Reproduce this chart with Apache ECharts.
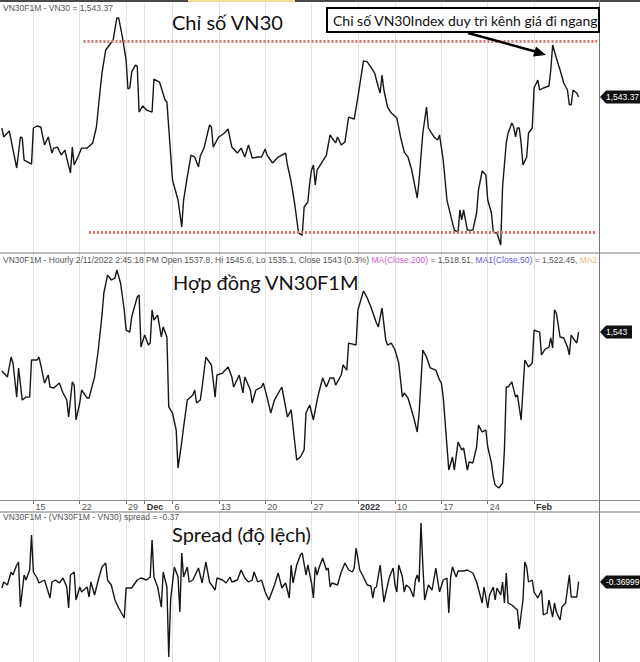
<!DOCTYPE html>
<html><head><meta charset="utf-8">
<script src="https://cdn.jsdelivr.net/npm/echarts@6/dist/echarts.min.js"></script>
<style>html,body{margin:0;padding:0;background:#fff}#c{width:640px;height:662px}</style>
</head><body><div id="c"></div><script>
// ---- axis: trading days (hourly slots) ----
const hours = ['09','10','11','13','14'];
const tradingDays = [
 '2021-11-10','2021-11-11','2021-11-12','2021-11-15','2021-11-16','2021-11-17','2021-11-18','2021-11-19',
 '2021-11-22','2021-11-23','2021-11-24','2021-11-25','2021-11-26','2021-11-29','2021-11-30',
 '2021-12-01','2021-12-02','2021-12-03','2021-12-06','2021-12-07','2021-12-08','2021-12-09','2021-12-10',
 '2021-12-13','2021-12-14','2021-12-15','2021-12-16','2021-12-17','2021-12-20','2021-12-21','2021-12-22',
 '2021-12-23','2021-12-24','2021-12-27','2021-12-28','2021-12-29','2021-12-30','2021-12-31',
 '2022-01-04','2022-01-05','2022-01-06','2022-01-07','2022-01-10','2022-01-11','2022-01-12','2022-01-13',
 '2022-01-14','2022-01-17','2022-01-18','2022-01-19','2022-01-20','2022-01-21','2022-01-24','2022-01-25',
 '2022-01-26','2022-01-27','2022-01-28','2022-02-07','2022-02-08','2022-02-09','2022-02-10','2022-02-11'];
const tickLabels = {'2021-11-15':'15','2021-11-22':'22','2021-11-29':'29','2021-12-01':'Dec','2021-12-06':'6',
 '2021-12-13':'13','2021-12-20':'20','2021-12-27':'27','2022-01-04':'2022','2022-01-10':'10','2022-01-17':'17',
 '2022-01-24':'24','2022-02-07':'Feb'};
const boldLabels = ['Dec','2022','Feb'];

// ---- series: [slot index, value] ----
const vn30 = [[1,1524.7],[2,1519.3],[5,1522.9],[9,1500.6],[11,1519.3],[12,1518.7],[13,1505.4],[16,1503.6],[17,1503.0],[18,1524.7],[20,1525.9],[22,1525.3],[24,1514.5],[26,1519.3],[28,1509.6],[29,1512.6],[31,1513.2],[33,1508.4],[35,1511.4],[36,1506.6],[38,1497.6],[39,1513.2],[40,1502.4],[42,1507.2],[44,1512.6],[47,1512.6],[50,1515.7],[52,1525.3],[54,1547.6],[55,1557.8],[57,1571.7],[61,1577.7],[63,1591.0],[64,1591.0],[66,1579.5],[68,1565.7],[69,1548.2],[70,1548.8],[71,1558.4],[73,1562.6],[74,1562.0],[75,1534.3],[77,1538.0],[79,1535.5],[82,1534.3],[83,1554.2],[86,1552.4],[89,1541.6],[90,1540.4],[93,1493.4],[96,1481.3],[98,1465.1],[99,1481.3],[101,1495.2],[103,1508.4],[105,1507.2],[107,1501.2],[108,1507.8],[110,1512.6],[113,1526.5],[114,1525.3],[115,1513.2],[117,1517.5],[118,1519.3],[121,1521.7],[123,1524.1],[125,1513.2],[128,1509.6],[130,1512.6],[132,1507.2],[134,1514.5],[136,1506.6],[139,1507.2],[141,1507.2],[143,1512.0],[144,1508.4],[147,1503.6],[150,1507.2],[154,1509.6],[155,1502.4],[157,1492.2],[159,1478.3],[161,1461.4],[163,1460.2],[164,1477.1],[166,1480.1],[167,1491.6],[168,1499.4],[169,1502.4],[170,1490.4],[171,1499.4],[172,1501.2],[176,1508.4],[178,1520.5],[179,1518.7],[181,1515.7],[182,1519.3],[184,1514.5],[186,1516.3],[188,1531.3],[191,1530.1],[193,1543.4],[196,1565.1],[198,1564.5],[200,1561.4],[202,1557.8],[204,1549.4],[205,1545.8],[206,1556.6],[207,1547.6],[209,1537.3],[211,1533.7],[214,1530.7],[216,1519.3],[218,1510.2],[220,1507.2],[222,1499.4],[225,1482.5],[226,1493.4],[228,1521.7],[230,1537.3],[231,1524.7],[234,1519.3],[236,1517.5],[237,1520.5],[239,1505.4],[241,1481.3],[244,1467.5],[245,1463.2],[247,1462.0],[248,1475.3],[249,1469.3],[250,1475.3],[252,1463.2],[255,1463.2],[257,1473.5],[258,1487.3],[260,1498.8],[262,1496.4],[263,1481.3],[265,1473.5],[266,1462.0],[268,1461.4],[270,1454.2],[271,1489.2],[273,1515.7],[274,1521.7],[276,1527.7],[277,1525.3],[278,1519.3],[279,1524.7],[280,1524.7],[281,1515.7],[282,1502.4],[284,1507.2],[285,1521.7],[287,1524.7],[288,1548.8],[290,1553.6],[291,1547.6],[293,1548.8],[296,1550.0],[297,1559.6],[298,1574.7],[300,1566.9],[302,1559.6],[304,1551.8],[306,1547.6],[307,1538.6],[308,1538.6],[309,1547.6],[311,1545.8],[312,1543.37]];

const vn30f1m = [[1,1519.3],[4,1515.7],[6,1527.8],[7,1524.2],[9,1503.5],[10,1521.2],[12,1501.7],[14,1503.5],[16,1503.5],[17,1526.0],[20,1526.0],[21,1527.8],[22,1523.0],[24,1512.0],[26,1516.9],[27,1509.6],[29,1509.0],[32,1512.0],[34,1506.0],[36,1501.7],[37,1491.4],[39,1512.7],[40,1510.8],[41,1489.6],[43,1499.9],[44,1507.8],[47,1502.9],[48,1502.9],[51,1515.7],[53,1532.1],[55,1553.3],[56,1566.7],[58,1577.6],[60,1574.6],[62,1575.8],[63,1580.7],[65,1572.8],[67,1556.4],[68,1544.2],[70,1543.0],[71,1552.1],[74,1564.3],[75,1565.5],[76,1533.9],[78,1541.2],[80,1535.1],[81,1536.3],[82,1556.4],[83,1550.3],[85,1553.3],[87,1540.0],[88,1546.1],[90,1540.0],[91,1497.5],[93,1493.8],[95,1483.5],[96,1460.4],[98,1476.2],[99,1485.3],[101,1501.7],[104,1504.8],[105,1507.8],[106,1499.9],[108,1501.7],[109,1509.6],[111,1527.8],[114,1523.0],[116,1503.5],[117,1516.9],[120,1518.1],[123,1521.8],[125,1515.7],[126,1509.6],[129,1516.9],[131,1506.0],[132,1515.7],[135,1507.8],[136,1499.9],[138,1507.8],[141,1509.6],[142,1512.0],[144,1503.5],[146,1493.8],[148,1501.7],[151,1507.8],[152,1509.6],[153,1503.5],[155,1491.4],[157,1495.7],[160,1465.3],[162,1467.1],[164,1471.4],[165,1493.8],[167,1498.7],[169,1489.6],[171,1501.7],[172,1506.6],[174,1515.1],[176,1509.6],[178,1515.1],[180,1515.1],[181,1510.8],[184,1516.9],[185,1523.0],[187,1519.9],[188,1536.3],[192,1535.1],[193,1556.4],[196,1567.9],[198,1563.7],[200,1558.2],[203,1548.5],[204,1546.1],[206,1557.6],[208,1538.2],[209,1535.1],[211,1536.3],[213,1532.1],[215,1524.2],[217,1503.5],[218,1506.0],[220,1502.9],[223,1491.4],[225,1482.3],[226,1493.8],[228,1532.1],[230,1527.8],[232,1521.2],[235,1519.9],[237,1513.9],[238,1512.0],[239,1503.5],[242,1459.2],[244,1467.1],[245,1459.2],[247,1476.2],[249,1471.4],[250,1472.6],[252,1459.2],[253,1464.1],[255,1463.5],[257,1473.2],[258,1486.5],[260,1482.3],[262,1483.5],[263,1473.2],[265,1463.5],[266,1455.0],[267,1450.1],[269,1448.3],[271,1451.3],[272,1471.4],[273,1509.6],[274,1509.6],[276,1512.7],[278,1503.5],[279,1504.8],[281,1489.6],[283,1526.0],[285,1521.8],[287,1524.2],[288,1544.2],[291,1543.0],[292,1529.1],[294,1532.7],[296,1533.9],[297,1539.4],[298,1533.3],[299,1556.4],[300,1554.6],[302,1540.0],[304,1539.4],[306,1533.9],[307,1529.1],[308,1541.2],[309,1539.4],[311,1536.3],[312,1543.0]];

const spread = [[1,-1.0],[2,-0.4],[4,-0.7],[6,0.6],[7,0.3],[9,1.3],[10,1.6],[11,-2.9],[13,0.3],[14,-0.2],[16,0.8],[17,4.3],[18,0.6],[20,0.0],[21,-0.5],[24,-0.2],[27,-2.0],[28,-0.4],[30,-0.2],[32,-0.5],[34,0.0],[36,-0.9],[37,-3.0],[38,0.3],[40,0.6],[41,-2.2],[43,-0.9],[44,-1.4],[47,-0.9],[48,-1.9],[49,-0.4],[51,-1.7],[53,-0.2],[55,1.1],[57,1.5],[58,-0.2],[60,-0.7],[62,-2.2],[64,-3.0],[67,-4.0],[68,-1.0],[71,-1.0],[74,-0.2],[76,0.0],[79,-0.2],[81,0.1],[82,3.8],[83,0.1],[85,-0.9],[87,-2.9],[88,0.6],[90,-0.9],[91,-7.9],[92,-2.2],[94,1.1],[96,0.1],[97,-3.4],[98,2.5],[99,0.1],[101,1.1],[102,-0.4],[104,-0.2],[107,1.0],[109,-0.5],[111,1.6],[113,-0.4],[116,-1.2],[117,0.0],[120,-0.2],[122,-0.5],[124,0.1],[125,-0.4],[128,-0.2],[130,0.8],[132,0.0],[134,-0.4],[136,-0.2],[137,0.6],[139,-0.4],[141,-0.2],[143,-1.4],[145,-2.2],[148,-0.7],[150,0.5],[152,-1.0],[154,-0.5],[156,-2.0],[157,1.3],[158,-0.5],[160,1.3],[162,2.3],[163,2.5],[165,0.3],[166,1.3],[168,-0.5],[169,-2.0],[170,1.1],[171,0.3],[172,1.0],[174,2.0],[176,0.8],[177,1.0],[178,-0.9],[179,-0.5],[182,-0.7],[184,0.6],[186,1.5],[188,0.8],[190,0.6],[191,1.0],[192,3.0],[194,0.8],[196,0.1],[198,-0.7],[200,-0.8],[201,-2.0],[202,-1.0],[203,-0.9],[205,1.3],[207,-2.4],[209,-0.7],[210,0.1],[212,1.0],[213,-0.7],[214,-1.4],[215,1.3],[217,0.1],[218,-1.4],[219,-0.7],[221,-1.0],[223,-1.9],[224,-0.2],[225,0.3],[226,-0.4],[227,5.5],[228,1.3],[229,-2.2],[231,-0.7],[233,-1.2],[235,1.0],[237,-1.4],[239,-0.2],[241,0.0],[242,-3.5],[243,0.1],[244,1.1],[246,0.1],[247,0.7],[250,0.7],[252,0.8],[255,0.5],[257,-0.4],[260,-2.5],[261,-0.9],[263,-3.0],[264,-1.7],[266,-0.9],[267,-2.2],[268,-1.0],[270,-1.7],[271,-0.4],[272,-2.5],[273,0.5],[274,-2.5],[276,-2.7],[279,-3.2],[280,-5.1],[282,-2.2],[283,1.6],[284,1.1],[285,-0.4],[287,-0.2],[288,-1.4],[290,-2.0],[292,-1.2],[293,-3.7],[295,-3.5],[296,-2.2],[298,-3.9],[299,-2.5],[300,-3.4],[302,-4.2],[303,-2.9],[305,-2.5],[307,0.3],[308,-1.9],[311,-1.9],[312,-0.37]];

// channel lines (VN30 level) and last-value tags
const channelTop = 1576.8, channelBottom = 1461.8;
const channelStart = [45, 48], channelEnd = 322;
const lastTags = ['1,543.37', '1,543', '-0.36999'];

// ---- build categories ----
const categories = [];
for (let i = 0; i < 3; i++) categories.push('pre' + i);
tradingDays.forEach(d => hours.forEach(h => categories.push(d + ' ' + h)));
let k = 0;
while (categories.length < 324) categories.push('post' + (k++));

const isTick = (idx, val) => typeof val === 'string' && val.endsWith(' 09') && tickLabels[val.slice(0, 10)] !== undefined;

const FONT_S = 'Liberation Sans, Arial, sans-serif';
const FONT_T = 'Lato, Noto Sans, sans-serif';

function xAxis(gi, showLabels) {
  return {
    type: 'category', gridIndex: gi, data: categories, boundaryGap: false,
    axisLine: {show: false},
    axisTick: showLabels ? {show: true, interval: isTick, length: 4, lineStyle: {color: '#777'}} : {show: false},
    axisLabel: showLabels ? {
      show: true, interval: isTick, align: 'left', margin: 2, padding: [0, 0, 0, 2],
      fontSize: 9, color: '#555', fontFamily: FONT_S,
      formatter: v => { const t = tickLabels[v.slice(0, 10)]; return boldLabels.includes(t) ? '{b|' + t + '}' : t; },
      rich: {b: {fontWeight: 'bold', fontSize: 9, color: '#333', fontFamily: FONT_S}}
    } : {show: false},
    splitLine: {show: true, interval: isTick, lineStyle: {color: '#e2e2e2', width: 1}}
  };
}
function yAxis(gi, min, max) {
  return {type: 'value', gridIndex: gi, min, max, show: true, axisLine: {show: false}, axisTick: {show: false},
    axisLabel: {show: false}, splitLine: {show: false}};
}
const lineStyle = {color: '#161616', width: 1.4};

const chart = echarts.init(document.getElementById('c'), null, {renderer: 'svg'});
chart.setOption({
  animation: false,
  backgroundColor: '#fff',
  grid: [
    {left: 0, width: 599, top: 3, height: 249},
    {left: 0, width: 599, top: 253, height: 247},
    {left: 0, width: 599, top: 512, height: 150}
  ],
  xAxis: [xAxis(0, false), xAxis(1, true), xAxis(2, false)],
  yAxis: [yAxis(0, 1450, 1600), yAxis(1, 1441, 1591), yAxis(2, -8.4, 6.6)],
  series: [
    {type: 'line', xAxisIndex: 0, yAxisIndex: 0, data: vn30, showSymbol: false, lineStyle,
      markLine: {silent: true, symbol: 'none', label: {show: false},
        lineStyle: {color: '#e67070', type: [2, 2], width: 3},
        data: [
          [{coord: [channelStart[0], channelTop]}, {coord: [channelEnd, channelTop]}],
          [{coord: [channelStart[1], channelBottom]}, {coord: [channelEnd, channelBottom]}]
        ]}},
    {type: 'line', xAxisIndex: 1, yAxisIndex: 1, data: vn30f1m, showSymbol: false, lineStyle},
    {type: 'line', xAxisIndex: 2, yAxisIndex: 2, data: spread, showSymbol: false, lineStyle}
  ]
});

// ---- overlays ----
const g = [];
const stroke = (x1, y1, x2, y2, c, w) => g.push({type: 'line', shape: {x1, y1, x2, y2}, style: {stroke: c, lineWidth: w}, z: 50});
g.push({type: 'rect', shape: {x: 0, y: 0, width: 640, height: 2}, style: {fill: '#4a4a4a'}, z: 50});
g.push({type: 'rect', shape: {x: 188, y: 0, width: 107, height: 2}, style: {fill: '#f2dc9a'}, z: 51});
stroke(0, 253, 640, 253, '#777', 1);
stroke(0, 500.5, 640, 500.5, '#888', 1);
stroke(0, 512, 640, 512, '#777', 1);
stroke(599.5, 0, 599.5, 662, '#777', 1);

// panel headers
const hdr = (x, y, text, rich) => g.push({type: 'text', x, y, z: 60,
  style: {text, fontSize: 8.5, fill: '#555', fontFamily: FONT_S, verticalAlign: 'middle', rich: rich || {}}});
hdr(3, 8, 'VN30F1M - VN30 = 1,543.37');
hdr(3, 259.5, 'VN30F1M - Hourly 2/11/2022 2:45:18 PM Open 1537.8, Hi 1545.6, Lo 1535.1, Close 1543 (0.3%) {m|MA(Close,200)} = 1,518.51, {bl|MA1(Close,50)} = 1,522.45, {o|MA2}',
  {m: {fill: '#d45ad4', fontSize: 8.5, fontFamily: FONT_S}, bl: {fill: '#5a5ad8', fontSize: 8.5, fontFamily: FONT_S}, o: {fill: '#f3b47a', fontSize: 8.5, fontFamily: FONT_S}});
hdr(3, 517, 'VN30F1M - (VN30F1M - VN30) spread = -0.37');

// big titles
const title = (x, y, text) => g.push({type: 'text', x, y, z: 60,
  style: {text, fontSize: 20, fill: '#111', fontFamily: FONT_T, verticalAlign: 'middle'}});
title(172, 22, 'Chỉ số VN30');
title(173, 282, 'Hợp đồng VN30F1M');
title(172, 534, 'Spread (độ lệch)');

// annotation box + arrow
g.push({type: 'rect', shape: {x: 327, y: 8, width: 272, height: 24}, style: {fill: '#fff', stroke: '#000', lineWidth: 2}, z: 60});
g.push({type: 'text', x: 333, y: 20.5, z: 61, style: {text: 'Chỉ số VN30Index duy trì kênh giá đi ngang', fontSize: 14, fill: '#111', fontFamily: FONT_T, verticalAlign: 'middle'}});
stroke(468, 33, 537, 52, '#000', 2.5);
g.push({type: 'polygon', shape: {points: [[546, 55], [533, 56.5], [536, 46.5]]}, style: {fill: '#000'}, z: 60});

// last-value tags positioned through each panel's scales
const lastPoints = [vn30[vn30.length - 1], vn30f1m[vn30f1m.length - 1], spread[spread.length - 1]];
const tagRight = [640, 632, 640];
lastPoints.forEach((p, i) => {
  const px = chart.convertToPixel({gridIndex: i}, p);
  const yc = Math.round(px[1]);
  g.push({type: 'polygon', shape: {points: [[600, yc], [606, yc - 6.5], [tagRight[i], yc - 6.5], [tagRight[i], yc + 6.5], [606, yc + 6.5]]}, style: {fill: '#111'}, z: 60});
  g.push({type: 'text', x: 606, y: yc, z: 61, style: {text: lastTags[i], fontSize: 8.5, fill: '#fff', fontFamily: FONT_S, verticalAlign: 'middle'}});
});
chart.setOption({graphic: g});
</script></body></html>
